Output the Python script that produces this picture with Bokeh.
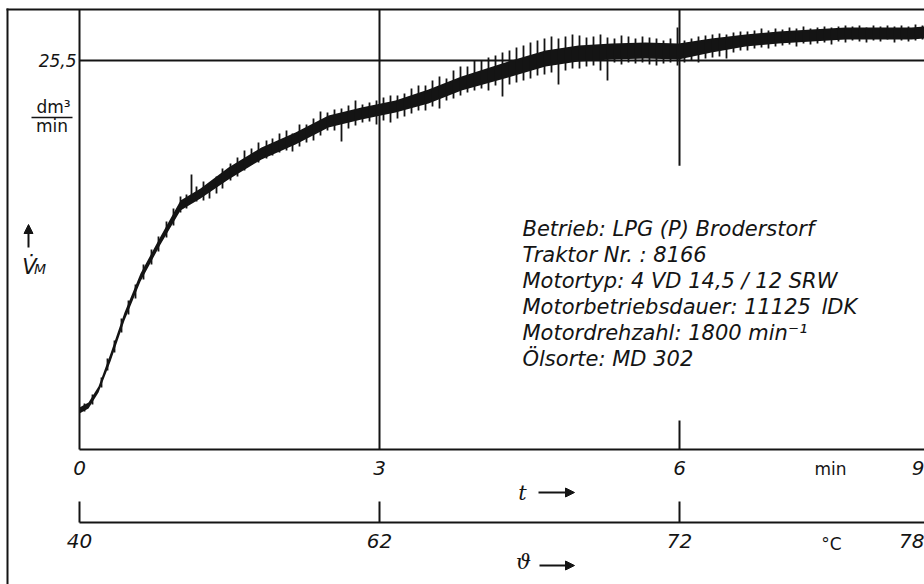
from bokeh.plotting import figure
from bokeh.models import (Range1d, FixedTicker, LinearAxis, Label, BoxAnnotation,
                          Arrow, NormalHead)
from bokeh.embed import file_html
from bokeh.resources import INLINE

# ---------------- data ----------------
# time axis (min) and its labels
t_tick_pos = [0, 3, 6, 8.43]
t_tick_labels = ["0", "3", "6", "9"]
# temperature axis (deg C) drawn against the same time scale
temp_tick_pos = [0, 3, 6, 8.38]
temp_tick_labels = ["40", "62", "72", "78"]
temp_tick_marks = [0, 3, 6]
# flow axis (dm^3/min)
v_tick_pos = [25.5]
v_tick_labels = ["25,5"]

# core of the recorded trace: time, lower and upper edge
band_t = [0.00, 0.09, 0.19, 0.31, 0.45, 0.61, 0.81, 1.01, 1.21, 1.49, 1.82, 2.16, 2.49,
          2.82, 3.16, 3.49, 3.82, 4.32, 4.66, 4.99, 5.32, 5.66, 5.99, 6.32, 6.66, 6.99,
          7.32, 7.66, 7.99, 8.32, 8.45]
band_hi = [2.75, 3.08, 4.13, 6.29, 8.98, 11.54, 13.96, 16.32, 17.11, 18.49, 19.80, 20.78,
           21.89, 22.42, 22.88, 23.60, 24.45, 25.50, 26.16, 26.48, 26.61, 26.68, 26.61,
           26.94, 27.20, 27.40, 27.53, 27.66, 27.66, 27.66, 27.73]
band_lo = [2.36, 2.69, 3.74, 5.77, 8.46, 11.01, 13.44, 15.67, 16.45, 17.70, 19.01, 19.99,
           21.11, 21.63, 22.09, 22.68, 23.53, 24.45, 25.11, 25.43, 25.57, 25.63, 25.57,
           26.02, 26.42, 26.61, 26.75, 26.88, 26.88, 26.88, 26.94]

# pen oscillation of the trace: time, top and bottom of each swing
trace_t = [0.05, 0.13, 0.22, 0.28, 0.35, 0.42, 0.49, 0.56, 0.64, 0.72,
           0.79, 0.87, 0.94, 1.01, 1.07, 1.12, 1.17, 1.24, 1.30, 1.37,
           1.43, 1.51, 1.58, 1.65, 1.72, 1.79, 1.87, 1.93, 2.00, 2.07,
           2.13, 2.20, 2.27, 2.34, 2.41, 2.48, 2.55, 2.62, 2.69, 2.76,
           2.83, 2.90, 2.97, 3.04, 3.11, 3.18, 3.25, 3.32, 3.39, 3.46,
           3.53, 3.60, 3.67, 3.74, 3.81, 3.88, 3.95, 4.02, 4.09, 4.16,
           4.23, 4.30, 4.37, 4.44, 4.51, 4.58, 4.65, 4.72, 4.79, 4.86,
           4.93, 5.00, 5.07, 5.14, 5.21, 5.28, 5.35, 5.42, 5.49, 5.56,
           5.63, 5.70, 5.77, 5.84, 5.91, 5.98, 6.05, 6.12, 6.19, 6.26,
           6.33, 6.40, 6.47, 6.54, 6.61, 6.68, 6.75, 6.82, 6.89, 6.96,
           7.03, 7.10, 7.17, 7.24, 7.31, 7.38, 7.45, 7.52, 7.59, 7.66,
           7.73, 7.80, 7.87, 7.94, 8.01, 8.08, 8.15, 8.22, 8.29, 8.36,
           8.43]
trace_hi = [3.02, 3.61, 4.72, 5.97, 7.15, 8.59, 9.77, 10.82, 12.13, 13.11,
            13.96, 14.95, 15.80, 16.59, 16.72, 18.03, 17.24, 17.57, 17.44, 17.90,
            18.42, 18.75, 19.14, 19.60, 19.73, 20.12, 20.26, 20.39, 20.71, 20.91,
            20.71, 21.30, 21.30, 21.70, 22.16, 22.09, 22.29, 22.35, 22.55, 22.88,
            22.62, 22.75, 22.88, 23.07, 23.21, 23.21, 23.34, 23.66, 23.86, 23.86,
            24.19, 24.45, 24.32, 24.84, 25.11, 25.11, 25.50, 25.50, 25.70, 25.83,
            26.02, 26.16, 26.35, 26.48, 26.68, 26.81, 26.94, 27.07, 26.94, 27.07,
            27.20, 27.14, 27.01, 27.07, 27.20, 27.01, 26.94, 27.14, 27.07, 26.94,
            27.07, 27.01, 26.94, 26.81, 26.94, 27.66, 26.81, 26.94, 27.07, 27.14,
            27.20, 27.27, 27.20, 27.34, 27.40, 27.40, 27.47, 27.60, 27.47, 27.60,
            27.53, 27.66, 27.60, 27.73, 27.60, 27.66, 27.73, 27.66, 27.73, 27.79,
            27.73, 27.79, 27.66, 27.79, 27.73, 27.79, 27.73, 27.79, 27.73, 27.86,
            27.79]
trace_lo = [2.49, 2.95, 4.06, 5.18, 6.36, 7.67, 8.85, 9.90, 11.14, 12.13,
            12.98, 13.90, 14.68, 15.54, 15.80, 16.32, 16.26, 16.32, 16.45, 16.78,
            17.11, 17.63, 17.90, 18.29, 18.68, 18.81, 19.08, 19.27, 19.47, 19.60,
            19.53, 19.86, 20.12, 20.26, 20.58, 20.91, 20.91, 20.19, 21.04, 21.24,
            21.44, 21.50, 21.30, 21.57, 21.44, 21.70, 21.83, 22.03, 22.22, 22.22,
            22.48, 22.35, 22.88, 23.01, 23.21, 23.40, 23.53, 23.66, 23.53, 23.86,
            23.14, 23.93, 24.06, 24.19, 24.32, 24.52, 24.58, 24.71, 23.93, 24.84,
            24.98, 24.98, 25.11, 25.17, 24.84, 24.19, 25.37, 25.24, 25.37, 25.30,
            25.37, 25.24, 25.17, 25.30, 25.37, 25.17, 25.37, 25.50, 25.37, 25.63,
            25.70, 25.76, 25.63, 26.02, 26.16, 26.16, 26.29, 26.35, 26.29, 26.42,
            26.48, 26.55, 26.42, 26.61, 26.55, 26.61, 26.68, 26.55, 26.75, 26.68,
            26.81, 26.75, 26.68, 26.81, 26.75, 26.88, 26.68, 26.81, 26.75, 26.81,
            26.88]

info_lines = [
    "Betrieb: LPG (P) Broderstorf",
    "Traktor Nr. : 8166",
    "Motortyp: 4 VD 14,5 / 12 SRW",
    "Motorbetriebsdauer: 11125\u2002lDK",
    "Motordrehzahl: 1800 min\u207b\u00b9",
    "\u00d6lsorte: MD 302",
]

# ---------------- layout / styling ----------------
INK = "#141414"
SANS = "DejaVu Sans"
SERIF = "DejaVu Serif"

T_END = 8.45           # time at the right edge of the page
V_TOP = 28.84          # flow value at the upper frame line
TEMP_AXIS_AT = -4.785  # vertical place of the temperature scale (below the plot)

# the whole canvas is the drawing area; axes are placed at fixed locations
p = figure(width=924, height=584, output_backend="svg", toolbar_location=None,
           title=None, x_axis_location=None, y_axis_location=None,
           x_range=Range1d(-0.79, T_END), y_range=Range1d(-8.85, 29.433),
           min_border=0, min_border_left=0, min_border_right=0,
           min_border_top=0, min_border_bottom=0)
p.outline_line_color = None
p.background_fill_color = "white"
p.border_fill_color = "white"
p.grid.visible = False

# time axis along the bottom of the plot
xa = LinearAxis(fixed_location=0, bounds=(0, T_END),
                ticker=FixedTicker(ticks=t_tick_pos),
                major_label_overrides={k: v for k, v in zip(t_tick_pos, t_tick_labels)},
                major_tick_in=0, major_tick_out=0, minor_tick_line_color=None,
                axis_line_color=INK, axis_line_width=2,
                major_label_text_font=SANS, major_label_text_font_style="italic",
                major_label_text_font_size="20px", major_label_text_color=INK,
                major_label_standoff=12)
p.add_layout(xa, "below")

# temperature scale
ta = LinearAxis(fixed_location=TEMP_AXIS_AT, bounds=(0, T_END),
                ticker=FixedTicker(ticks=temp_tick_pos, minor_ticks=temp_tick_marks),
                major_label_overrides={k: v for k, v in zip(temp_tick_pos, temp_tick_labels)},
                axis_line_color=INK, axis_line_width=2,
                major_tick_in=0, major_tick_out=0,
                minor_tick_in=21, minor_tick_out=0,
                minor_tick_line_color=INK, minor_tick_line_width=2,
                major_label_text_font=SANS, major_label_text_font_style="italic",
                major_label_text_font_size="20px", major_label_text_color=INK,
                major_label_standoff=12)
p.add_layout(ta, "below")

# flow axis
ya = LinearAxis(fixed_location=0, bounds=(0, V_TOP),
                ticker=FixedTicker(ticks=v_tick_pos),
                major_label_overrides={k: v for k, v in zip(v_tick_pos, v_tick_labels)},
                major_tick_in=0, major_tick_out=0, minor_tick_line_color=None,
                axis_line_color=INK, axis_line_width=2,
                major_label_text_font=SANS, major_label_text_font_style="italic",
                major_label_text_font_size="17px", major_label_text_color=INK,
                major_label_standoff=3)
p.add_layout(ya, "left")

# grid / reference lines
p.segment(x0=[0], y0=v_tick_pos, x1=[T_END], y1=v_tick_pos, line_color=INK, line_width=2)
p.segment(x0=[3], y0=[0], x1=[3], y1=[V_TOP], line_color=INK, line_width=2)
# the 6-min line is interrupted behind the text block
p.segment(x0=[6, 6], y0=[0, 18.6], x1=[6, 6], y1=[1.9, V_TOP], line_color=INK, line_width=2)

# the trace
p.varea(x=band_t, y1=band_lo, y2=band_hi, fill_color=INK)
p.segment(x0=trace_t, y0=trace_lo, x1=trace_t, y1=trace_hi, line_color=INK, line_width=1.8)


# decorations in screen units (origin at the lower-left page corner)
def sbox(**kw):
    return BoxAnnotation(left_units="screen", right_units="screen", top_units="screen",
                         bottom_units="screen", fill_color=INK, fill_alpha=1.0,
                         line_color=None, line_alpha=0, **kw)


p.add_layout(sbox(left=6, right=8, bottom=0, top=576))      # outer left edge
p.add_layout(sbox(left=6, right=924, bottom=574, top=576))  # top edge
p.add_layout(sbox(left=31, right=72, bottom=466.3, top=467.8))  # fraction bar


def lab(x, y, text, font=SANS, size="16px", style="normal", align="center"):
    p.add_layout(Label(x=x, y=y, x_units="screen", y_units="screen", text=text,
                       text_font=font, text_font_size=size, text_font_style=style,
                       text_align=align, text_baseline="alphabetic", text_color=INK))


def arrow(x0, y0, x1, y1):
    p.add_layout(Arrow(end=NormalHead(size=9, fill_color=INK, line_color=INK),
                       x_start=x0, y_start=y0, x_end=x1, y_end=y1,
                       start_units="screen", end_units="screen",
                       line_color=INK, line_width=2))


# unit of flow
lab(53, 478, "dm\u00b3", size="17px")
lab(51.5, 459, "min", size="17px")
# quantity symbol with arrow
lab(29, 318, "V\u0307", size="21px", style="italic")
lab(39.5, 316, "M", size="14px", style="italic")
arrow(28, 337, 28, 360)

# units and symbols of the lower scales
lab(830, 116, "min", size="17px")
lab(831, 41, "\u00b0C", size="17px")
lab(522, 92, "t", font=SERIF, size="21px", style="italic")
arrow(538, 92, 574, 92)
lab(523, 23, "\u03d1", font=SERIF, size="21px", style="italic")
arrow(539, 19, 574, 19)

# text block
for i, line in enumerate(info_lines):
    lab(522, 356 - 26 * i, line, size="21px", style="italic", align="left")

open("out.html", "w").write(file_html(p, INLINE))
